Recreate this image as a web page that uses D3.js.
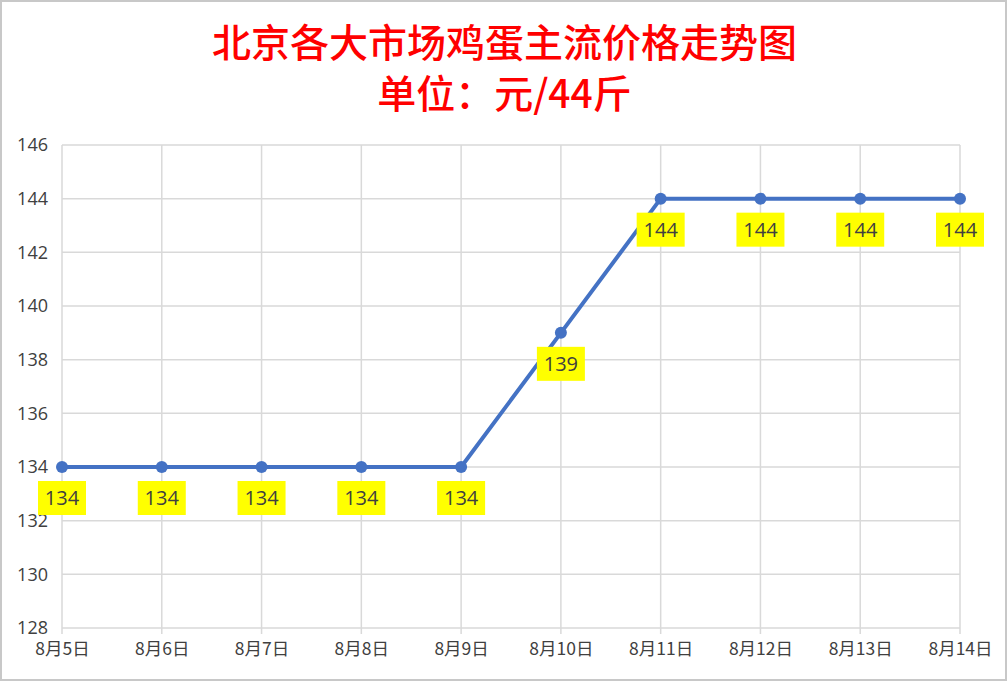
<!DOCTYPE html>
<html>
<head>
<meta charset="utf-8">
<script src="https://cdn.jsdelivr.net/npm/d3@7"></script>
<style>
  html, body { margin: 0; padding: 0; background: #fff; }
  svg { display: block; }
</style>
</head>
<body>
<svg width="1007" height="681"></svg>
<script>
// data
var dates = ['8月5日', '8月6日', '8月7日', '8月8日', '8月9日', '8月10日', '8月11日', '8月12日', '8月13日', '8月14日'];
var prices = [134, 134, 134, 134, 134, 139, 144, 144, 144, 144];
var yTicks = [128, 130, 132, 134, 136, 138, 140, 142, 144, 146];
var titleLines = ['北京各大市场鸡蛋主流价格走势图', '单位：元/44斤'];

var svg = d3.select('svg'),
    w = +svg.attr('width'),
    h = +svg.attr('height');

var cjk = '"Noto Sans CJK SC", "Noto Sans", sans-serif';

// outer frame
svg.append('rect')
  .attr('x', 1).attr('y', 1)
  .attr('width', w - 2).attr('height', h - 2)
  .attr('fill', '#fff')
  .attr('stroke', '#c8c8c8')
  .attr('stroke-width', 2);

var x = d3.scalePoint()
      .domain(dates)
      .range([62, 960]),
    y = d3.scaleLinear()
      .domain([128, 146])
      .range([628, 145]);

// title, one text block with two lines
svg.append('text')
  .attr('class', 'title')
  .attr('text-anchor', 'middle')
  .attr('fill', '#ff0000')
  .attr('font-family', cjk)
  .attr('font-weight', 500)
  .attr('font-size', 39)
  .selectAll('tspan')
  .data(titleLines)
  .enter()
  .append('tspan')
  .attr('x', w / 2 + 1)
  .attr('y', function(d, i) { return 57 + i * 51; })
  .text(function(d) { return d; });

// gridlines
var grid = svg.append('g').attr('class', 'grid');
grid.selectAll('line.h')
  .data(yTicks)
  .enter()
  .append('line')
  .attr('x1', 62).attr('x2', 960)
  .attr('y1', function(d) { return y(d); })
  .attr('y2', function(d) { return y(d); })
  .attr('stroke', '#d9d9d9')
  .attr('stroke-width', 1.5);

grid.selectAll('line.v')
  .data(dates)
  .enter()
  .append('line')
  .attr('y1', 145).attr('y2', 634)
  .attr('x1', function(d) { return x(d); })
  .attr('x2', function(d) { return x(d); })
  .attr('stroke', '#d9d9d9')
  .attr('stroke-width', 1.5);

// y axis labels
var yAxis = d3.axisLeft(y).tickValues(yTicks).tickSize(0).tickPadding(14);
svg.append('g')
  .attr('transform', 'translate(62,0)')
  .call(yAxis)
  .call(function(g) { g.select('.domain').remove(); })
  .selectAll('text')
  .attr('font-family', '"Open Sans", "Noto Sans", sans-serif')
  .attr('font-size', 18)
  .attr('fill', '#404040');

// x axis labels
var xAxis = d3.axisBottom(x).tickSize(0).tickPadding(15);
svg.append('g')
  .attr('transform', 'translate(0,628)')
  .call(xAxis)
  .call(function(g) { g.select('.domain').remove(); })
  .selectAll('text')
  .attr('font-family', cjk)
  .attr('font-size', 17.5)
  .attr('fill', '#404040');

// line
var line = d3.line()
  .x(function(d, i) { return x(dates[i]); })
  .y(function(d) { return y(d); });

svg.append('path')
  .datum(prices)
  .attr('d', line)
  .attr('fill', 'none')
  .attr('stroke', '#4472c4')
  .attr('stroke-width', 4)
  .attr('stroke-linejoin', 'round');

svg.selectAll('circle.pt')
  .data(prices)
  .enter()
  .append('circle')
  .attr('class', 'pt')
  .attr('cx', function(d, i) { return x(dates[i]); })
  .attr('cy', function(d) { return y(d); })
  .attr('r', 6)
  .attr('fill', '#4472c4');

// value labels with yellow boxes
var lab = svg.selectAll('g.lab')
  .data(prices)
  .enter()
  .append('g')
  .attr('class', 'lab')
  .attr('transform', function(d, i) {
    return 'translate(' + x(dates[i]) + ',' + (y(d) + 14) + ')';
  });

lab.append('rect')
  .attr('x', -24).attr('y', 0)
  .attr('width', 48).attr('height', 34)
  .attr('fill', '#ffff00');

lab.append('text')
  .attr('x', 0).attr('y', 24)
  .attr('text-anchor', 'middle')
  .attr('font-family', '"Open Sans", "Noto Sans", sans-serif')
  .attr('font-size', 20)
  .attr('fill', '#404040')
  .text(function(d) { return d; });
</script>
</body>
</html>
